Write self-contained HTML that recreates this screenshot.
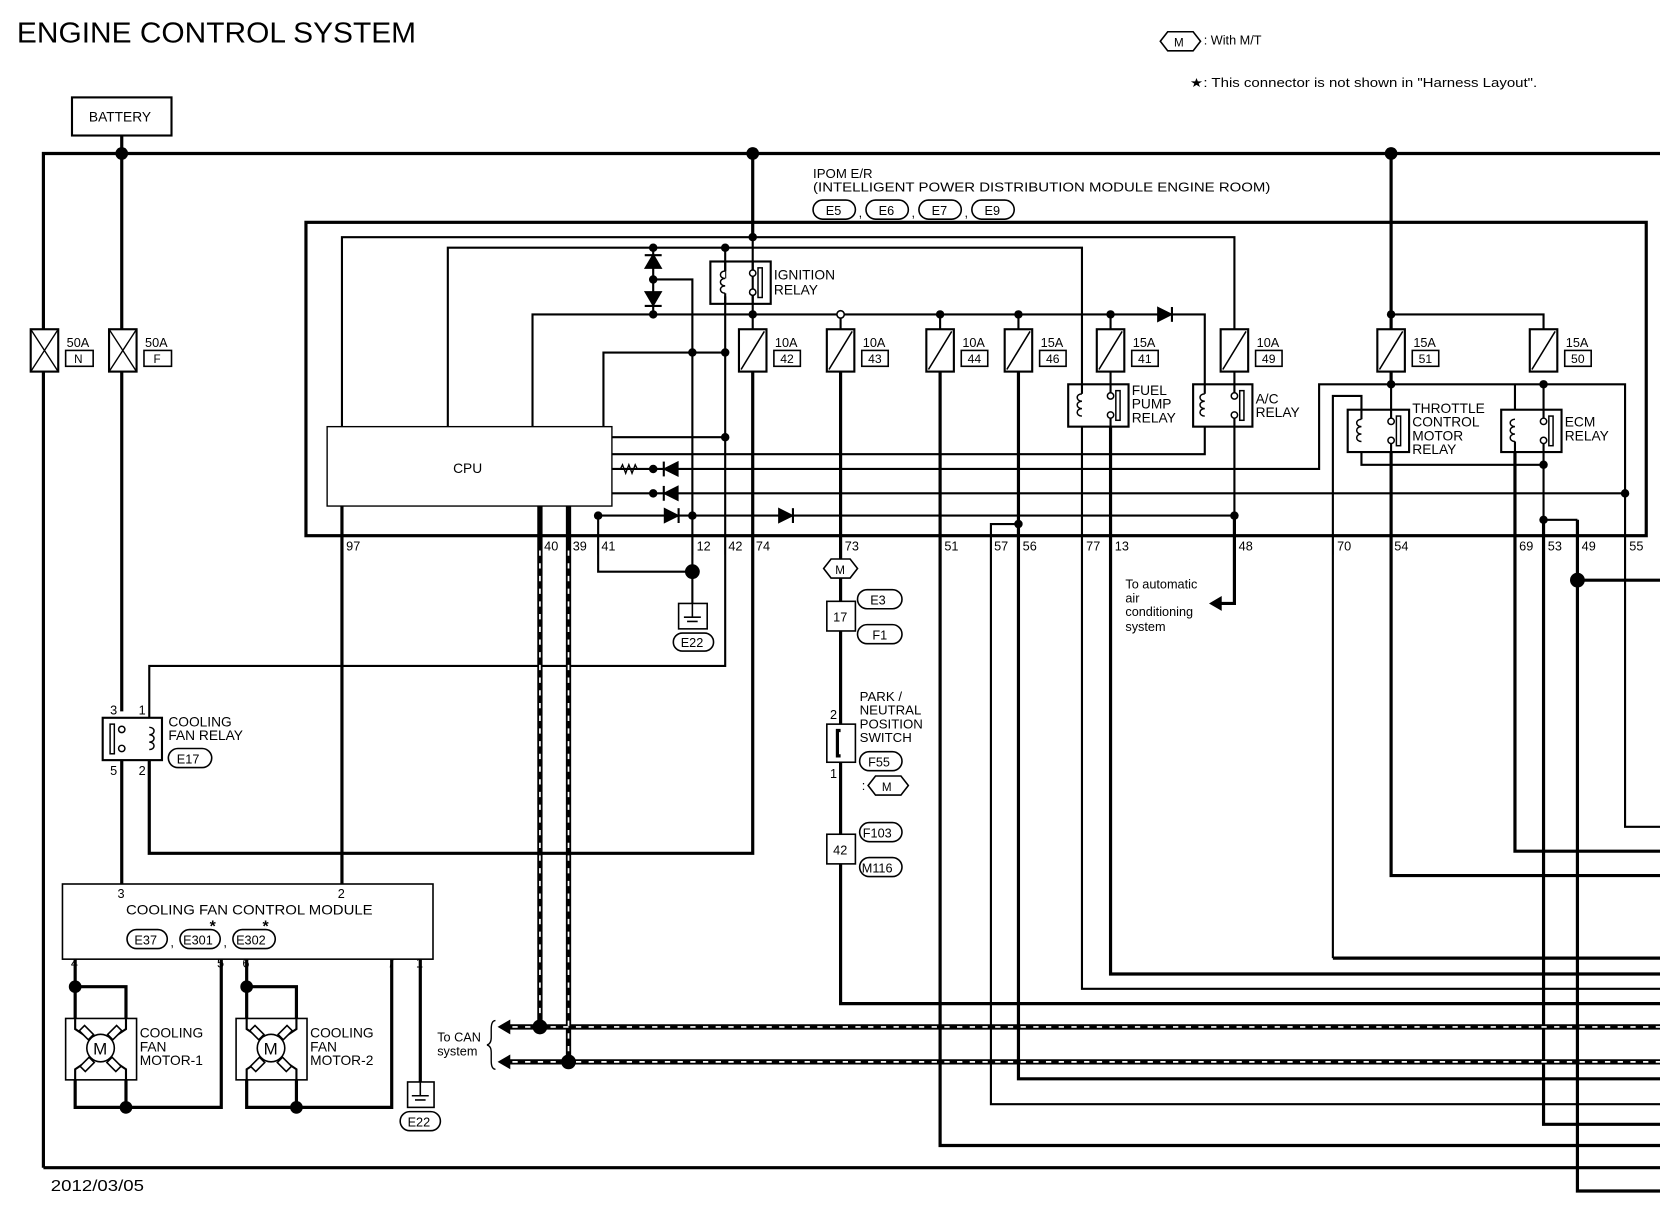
<!DOCTYPE html>
<html><head><meta charset="utf-8"><style>
html,body{margin:0;padding:0;background:#fff;}
svg{display:block;}
text{font-family:"Liberation Sans",Arial,sans-serif;fill:#000;}
</style></head><body>
<svg width="1660" height="1216" viewBox="0 0 1568 1148.6" preserveAspectRatio="none" xmlns="http://www.w3.org/2000/svg">
<g fill="none" stroke="#000" stroke-width="3">
<path d="M41 1103 V145 H1568"/>
<path d="M41 1103 H1568"/>
<path d="M115 128 V672"/>
<path d="M711 145 V224"/>
<path d="M1314 145 V363"/>
<rect x="289" y="210" width="1266" height="296"/>
</g>
<g fill="none" stroke="#000" stroke-width="2">
<path d="M323 403 V224 H1166 V311"/>
<path d="M423 403 V234 H1022 V363"/>
<path d="M617 234 V297"/>
<path d="M617 264 H654 V540"/>
<path d="M503 403 V297 H1138 V363"/>
<path d="M1138 403 V429 H578"/>
<path d="M570 403 V333 H685"/>
<path d="M578 413 H685"/>
<path d="M685 234 V263"/>
<path d="M685 280 V629 H141 V678"/>
<path d="M711 224 V311"/>
<path d="M794 297 V311"/><path d="M888 297 V311"/><path d="M962 297 V311"/><path d="M1049 297 V311"/>
<path d="M1049 351 V363"/><path d="M1166 351 V363"/>
<path d="M1166 403 V487 H565 V540 H654"/>
<path d="M578 443 H1246 V363 H1535 V781 H1568"/>
<path d="M578 466 H1535"/>
<path d="M1314 351 V387"/><path d="M1458 363 V387"/>
<path d="M1458 427 V491 H1490"/>
<path d="M1286 427 V439 H1458"/>
<path d="M1259 905 V374 H1286 V387"/>
<path d="M1431 363 V387"/>
<path d="M962 495 H936 V1043 H1568"/>
<path d="M1022 403 V934 H1568"/>
<path d="M654 540 V570"/>
</g>
<g fill="none" stroke="#000" stroke-width="3">
<path d="M711 351 V806 H141 V718"/>
<path d="M323 478 V835"/>
<path d="M115 718 V835"/>
<path d="M794 351 V948 H1568"/>
<path d="M888 351 V1082 H1568"/>
<path d="M962 351 V1019 H1568"/>
<path d="M1049 403 V920 H1568"/>
<path d="M1166 487 V570 H1152"/>
<path d="M1259 905 H1568"/>
<path d="M1314 427 V827 H1568"/>
<path d="M1431 427 V804 H1568"/>
<path d="M1458 491 V1062 H1568"/>
<path d="M1490 491 V1125 H1568"/>
<path d="M1490 548 H1568"/>
<path d="M71 906 V1046 H209 V906"/>
<path d="M71 932 H119 V962"/><path d="M119 1020 V1046"/>
<path d="M233 906 V1046 H370 V906"/>
<path d="M233 932 H280 V962"/><path d="M280 1020 V1046"/>
<path d="M397 906 V1022"/>
<path d="M480 970 H1568" stroke-width="5"/>
<path d="M480 1003 H1568" stroke-width="5"/>
<path d="M510 478 V970" stroke-width="5"/><path d="M537 478 V1003" stroke-width="5"/>
</g>
<g fill="none" stroke="#fff" stroke-width="1.6" stroke-dasharray="5 7">
<path d="M484 970 H1568"/><path d="M484 1003 H1568"/>
<path d="M510 520 V966"/><path d="M537 520 V999"/>
</g>
<polygon points="470,970 482,963 482,977" fill="#000"/>
<polygon points="470,1003 482,996 482,1010" fill="#000"/>
<polygon points="1142,570 1154,563 1154,577" fill="#000"/>
<path d="M468 964 Q464 964 464 972 V980 Q464 986 460 987 Q464 988 464 994 V1002 Q464 1010 468 1010" fill="none" stroke="#000" stroke-width="1.3"/>

<g fill="#000">
<circle cx="115" cy="145" r="6"/><circle cx="711" cy="145" r="6"/><circle cx="1314" cy="145" r="6"/>
<circle cx="711" cy="224" r="4"/><circle cx="617" cy="234" r="4"/><circle cx="685" cy="234" r="4"/>
<circle cx="617" cy="264" r="4"/><circle cx="617" cy="297" r="4"/><circle cx="711" cy="297" r="4"/>
<circle cx="888" cy="297" r="4"/><circle cx="962" cy="297" r="4"/><circle cx="1049" cy="297" r="4"/>
<circle cx="654" cy="333" r="4"/><circle cx="685" cy="333" r="4"/><circle cx="685" cy="413" r="4"/>
<circle cx="617" cy="443" r="4"/><circle cx="617" cy="466" r="4"/><circle cx="565" cy="487" r="4"/>
<circle cx="654" cy="487" r="4"/><circle cx="1166" cy="487" r="4"/><circle cx="962" cy="495" r="4"/>
<circle cx="654" cy="540" r="7"/>
<circle cx="1314" cy="297" r="4"/><circle cx="1314" cy="363" r="4"/><circle cx="1458" cy="363" r="4"/>
<circle cx="1458" cy="439" r="4"/><circle cx="1535" cy="466" r="4"/><circle cx="1458" cy="491" r="4"/>
<circle cx="1490" cy="548" r="7"/>
<circle cx="510" cy="970" r="7"/><circle cx="537" cy="1003" r="7"/>
<circle cx="71" cy="932" r="6"/><circle cx="119" cy="1046" r="6"/>
<circle cx="233" cy="932" r="6"/><circle cx="280" cy="1046" r="6"/>
</g>
<path d="M1314 297 H1458 V311" fill="none" stroke="#000" stroke-width="2"/>
<circle cx="794" cy="297" r="3.5" fill="#fff" stroke="#000" stroke-width="1.5"/>
<g fill="#000" stroke="#000" stroke-width="2">
<polygon points="610,253 624,253 617,241"/><line x1="609" y1="241" x2="625" y2="241"/>
<polygon points="610,276 624,276 617,288"/><line x1="609" y1="289" x2="625" y2="289"/>
<polygon points="1094,291 1094,303 1106,297"/><line x1="1107" y1="290" x2="1107" y2="304"/>
<polygon points="640,437 640,449 628,443"/><line x1="627" y1="436" x2="627" y2="450"/>
<polygon points="640,460 640,472 628,466"/><line x1="627" y1="459" x2="627" y2="473"/>
<polygon points="628,481 628,493 640,487"/><line x1="641" y1="480" x2="641" y2="494"/>
<polygon points="736,481 736,493 748,487"/><line x1="749" y1="480" x2="749" y2="494"/>
</g>
<path d="M578 443 H586 l2 -4 l3 8 l3 -8 l3 8 l3 -8 l2 4 H617" fill="none" stroke="#000" stroke-width="1.3"/>

<rect x="309" y="403" width="269" height="75" fill="#fff" stroke="#000" stroke-width="1.3"/>
<text x="428" y="447" font-size="13">CPU</text>

<g stroke="#000" stroke-width="2" fill="#fff">
<rect x="29" y="311" width="26" height="40"/><rect x="103" y="311" width="26" height="40"/>
</g>
<g stroke="#000" stroke-width="1.3">
<line x1="29" y1="311" x2="55" y2="351"/><line x1="55" y1="311" x2="29" y2="351"/>
<line x1="103" y1="311" x2="129" y2="351"/><line x1="129" y1="311" x2="103" y2="351"/>
</g>
<g font-size="12"><text x="63" y="328">50A</text><text x="137" y="328">50A</text></g>
<rect x="62" y="331" width="26" height="15" fill="none" stroke="#000" stroke-width="1.5"/>
<rect x="136" y="331" width="26" height="15" fill="none" stroke="#000" stroke-width="1.5"/>
<text x="70" y="343" font-size="11">N</text><text x="145" y="343" font-size="11">F</text>

<g stroke="#000" stroke-width="2" fill="#fff">
<rect x="698" y="311" width="26" height="40"/><rect x="781" y="311" width="26" height="40"/>
<rect x="875" y="311" width="26" height="40"/><rect x="949" y="311" width="26" height="40"/>
<rect x="1036" y="311" width="26" height="40"/><rect x="1153" y="311" width="26" height="40"/>
<rect x="1301" y="311" width="26" height="40"/><rect x="1445" y="311" width="26" height="40"/>
</g>
<g stroke="#000" stroke-width="1.5">
<line x1="700" y1="349" x2="722" y2="313"/><line x1="783" y1="349" x2="805" y2="313"/>
<line x1="877" y1="349" x2="899" y2="313"/><line x1="951" y1="349" x2="973" y2="313"/>
<line x1="1038" y1="349" x2="1060" y2="313"/><line x1="1155" y1="349" x2="1177" y2="313"/>
<line x1="1303" y1="349" x2="1325" y2="313"/><line x1="1447" y1="349" x2="1469" y2="313"/>
</g>
<g fill="none" stroke="#000" stroke-width="1.5">
<rect x="731" y="331" width="25" height="15"/><rect x="814" y="331" width="25" height="15"/>
<rect x="908" y="331" width="25" height="15"/><rect x="982" y="331" width="25" height="15"/>
<rect x="1069" y="331" width="25" height="15"/><rect x="1186" y="331" width="25" height="15"/>
<rect x="1334" y="331" width="25" height="15"/><rect x="1478" y="331" width="25" height="15"/>
</g>
<g font-size="12">
<text x="732" y="328">10A</text><text x="815" y="328">10A</text><text x="909" y="328">10A</text><text x="983" y="328">15A</text>
<text x="1070" y="328">15A</text><text x="1187" y="328">10A</text><text x="1335" y="328">15A</text><text x="1479" y="328">15A</text>
</g>
<g font-size="11.5">
<text x="737" y="343">42</text><text x="820" y="343">43</text><text x="914" y="343">44</text><text x="988" y="343">46</text>
<text x="1075" y="343">41</text><text x="1192" y="343">49</text><text x="1340" y="343">51</text><text x="1484" y="343">50</text>
</g>

<g fill="none" stroke="#000" stroke-width="2">
<rect x="671" y="247" width="57" height="40"/>
<rect x="1009" y="363" width="57" height="40"/>
<rect x="1127" y="363" width="56" height="40"/>
<rect x="1273" y="387" width="58" height="40"/>
<rect x="1418" y="387" width="57" height="40"/>
<rect x="97" y="678" width="56" height="40"/>
</g>
<g fill="#fff" stroke="#000" stroke-width="1.4">
<path d="M685 256 c-6 0 -6 7 0 7 c-6 0 -6 7 0 7 c-6 0 -6 7 0 7"/>
<path d="M1022 372 c-6 0 -6 7 0 7 c-6 0 -6 7 0 7 c-6 0 -6 7 0 7"/>
<path d="M1138 372 c-6 0 -6 7 0 7 c-6 0 -6 7 0 7 c-6 0 -6 7 0 7"/>
<path d="M1286 396 c-6 0 -6 7 0 7 c-6 0 -6 7 0 7 c-6 0 -6 7 0 7"/>
<path d="M1431 396 c-6 0 -6 7 0 7 c-6 0 -6 7 0 7 c-6 0 -6 7 0 7"/>
<path d="M141 687 c6 0 6 7 0 7 c6 0 6 7 0 7 c6 0 6 7 0 7"/>
<circle cx="711" cy="258" r="3"/><circle cx="711" cy="276" r="3"/><rect x="716" y="253" width="4" height="28"/>
<circle cx="1049" cy="374" r="3"/><circle cx="1049" cy="392" r="3"/><rect x="1054" y="369" width="4" height="28"/>
<circle cx="1166" cy="374" r="3"/><circle cx="1166" cy="392" r="3"/><rect x="1171" y="369" width="4" height="28"/>
<circle cx="1314" cy="398" r="3"/><circle cx="1314" cy="416" r="3"/><rect x="1319" y="393" width="4" height="28"/>
<circle cx="1458" cy="398" r="3"/><circle cx="1458" cy="416" r="3"/><rect x="1463" y="393" width="4" height="28"/>
<circle cx="115" cy="689" r="3"/><circle cx="115" cy="707" r="3"/><rect x="104" y="684" width="4" height="28"/>
</g>
<g stroke="#000" stroke-width="2">
<line x1="685" y1="247" x2="685" y2="256"/><line x1="685" y1="277" x2="685" y2="287"/>
<line x1="711" y1="247" x2="711" y2="255"/><line x1="711" y1="279" x2="711" y2="287"/>
<line x1="1049" y1="363" x2="1049" y2="371"/><line x1="1049" y1="395" x2="1049" y2="403"/>
<line x1="1166" y1="363" x2="1166" y2="371"/><line x1="1166" y1="395" x2="1166" y2="403"/>
<line x1="1314" y1="387" x2="1314" y2="395"/><line x1="1314" y1="419" x2="1314" y2="427"/>
<line x1="1458" y1="387" x2="1458" y2="395"/><line x1="1458" y1="419" x2="1458" y2="427"/>
<line x1="1286" y1="387" x2="1286" y2="396"/><line x1="1431" y1="417" x2="1431" y2="427"/>
<line x1="1022" y1="363" x2="1022" y2="372"/><line x1="1138" y1="363" x2="1138" y2="372"/>
</g>
<g font-size="13">
<text x="731" y="264">IGNITION</text><text x="731" y="278">RELAY</text>
<text x="1069" y="373">FUEL</text><text x="1069" y="386">PUMP</text><text x="1069" y="399">RELAY</text>
<text x="1186" y="381">A/C</text><text x="1186" y="394">RELAY</text>
<text x="1334" y="390">THROTTLE</text><text x="1334" y="403">CONTROL</text><text x="1334" y="416">MOTOR</text><text x="1334" y="429">RELAY</text>
<text x="1478" y="403">ECM</text><text x="1478" y="416">RELAY</text>
</g>

<g font-size="12.5">
<text x="768" y="168">IPOM E/R</text>
<text x="768" y="181" textLength="432" lengthAdjust="spacingAndGlyphs">(INTELLIGENT POWER DISTRIBUTION MODULE ENGINE ROOM)</text>
</g>
<g fill="none" stroke="#000" stroke-width="1.5">
<rect x="768" y="189" width="40" height="18" rx="9"/><rect x="818" y="189" width="40" height="18" rx="9"/>
<rect x="868" y="189" width="40" height="18" rx="9"/><rect x="918" y="189" width="40" height="18" rx="9"/>
</g>
<g font-size="12"><text x="780" y="203">E5</text><text x="830" y="203">E6</text><text x="880" y="203">E7</text><text x="930" y="203">E9</text>
<text x="811" y="205">,</text><text x="861" y="205">,</text><text x="911" y="205">,</text></g>

<g stroke="#000" stroke-width="1.5">
<line x1="323" y1="506" x2="323" y2="524"/><line x1="565" y1="506" x2="565" y2="524"/>
<line x1="654" y1="506" x2="654" y2="524"/><line x1="685" y1="506" x2="685" y2="524"/>
<line x1="711" y1="506" x2="711" y2="524"/><line x1="936" y1="495" x2="936" y2="524"/>
<line x1="1022" y1="506" x2="1022" y2="524"/><line x1="1049" y1="506" x2="1049" y2="524"/>
<line x1="1259" y1="506" x2="1259" y2="524"/><line x1="1431" y1="506" x2="1431" y2="524"/>
<line x1="1535" y1="506" x2="1535" y2="524"/>
</g>
<g font-size="12">
<text x="327" y="520">97</text><text x="514" y="520">40</text><text x="541" y="520">39</text><text x="568" y="520">41</text>
<text x="658" y="520">12</text><text x="688" y="520">42</text><text x="714" y="520">74</text><text x="798" y="520">73</text>
<text x="892" y="520">51</text><text x="939" y="520">57</text><text x="966" y="520">56</text><text x="1026" y="520">77</text>
<text x="1053" y="520">13</text><text x="1170" y="520">48</text><text x="1263" y="520">70</text><text x="1317" y="520">54</text>
<text x="1435" y="520">69</text><text x="1462" y="520">53</text><text x="1494" y="520">49</text><text x="1539" y="520">55</text>
</g>

<rect x="641" y="570" width="27" height="24" fill="#fff" stroke="#000" stroke-width="1.5"/>
<g stroke="#000" stroke-width="1.5"><line x1="654" y1="570" x2="654" y2="583"/><line x1="646" y1="583" x2="662" y2="583"/><line x1="649" y1="587" x2="659" y2="587"/></g>
<rect x="636" y="598" width="38" height="17" rx="8.5" fill="none" stroke="#000" stroke-width="1.5"/>
<text x="643" y="611" font-size="12">E22</text>

<text x="1063" y="556" font-size="12">To automatic</text>
<text x="1063" y="569" font-size="12">air</text>
<text x="1063" y="582" font-size="12">conditioning</text>
<text x="1063" y="596" font-size="12">system</text>

<polygon points="778,537 785,528 803,528 810,537 803,546 785,546" fill="#fff" stroke="#000" stroke-width="1.5"/>
<text x="789" y="542" font-size="11">M</text>
<rect x="781" y="568" width="27" height="28" fill="#fff" stroke="#000" stroke-width="1.5"/>
<text x="787" y="587" font-size="12">17</text>
<rect x="810" y="557" width="42" height="18" rx="9" fill="none" stroke="#000" stroke-width="1.5"/>
<text x="822" y="571" font-size="12">E3</text>
<rect x="810" y="590" width="42" height="18" rx="9" fill="none" stroke="#000" stroke-width="1.5"/>
<text x="824" y="604" font-size="12">F1</text>
<rect x="781" y="684" width="27" height="36" fill="#fff" stroke="#000" stroke-width="1.5"/>
<path d="M794 690 h-3 v24 h3" fill="none" stroke="#000" stroke-width="3"/>
<text x="784" y="679" font-size="12">2</text><text x="784" y="735" font-size="12">1</text>
<g font-size="12.5"><text x="812" y="662">PARK /</text><text x="812" y="675">NEUTRAL</text><text x="812" y="688">POSITION</text><text x="812" y="701">SWITCH</text></g>
<rect x="812" y="710" width="40" height="18" rx="9" fill="none" stroke="#000" stroke-width="1.5"/>
<text x="820" y="724" font-size="12">F55</text>
<text x="814" y="746" font-size="12">:</text>
<polygon points="820,742 827,733 851,733 858,742 851,751 827,751" fill="#fff" stroke="#000" stroke-width="1.5"/>
<text x="833" y="747" font-size="11">M</text>
<rect x="812" y="777" width="40" height="18" rx="9" fill="none" stroke="#000" stroke-width="1.5"/>
<text x="815" y="791" font-size="12">F103</text>
<rect x="781" y="788" width="27" height="28" fill="#fff" stroke="#000" stroke-width="1.5"/>
<text x="787" y="807" font-size="12">42</text>
<rect x="812" y="810" width="40" height="18" rx="9" fill="none" stroke="#000" stroke-width="1.5"/>
<text x="814" y="824" font-size="12">M116</text>

<g font-size="12"><text x="104" y="675">3</text><text x="131" y="675">1</text><text x="104" y="732">5</text><text x="131" y="732">2</text></g>
<g font-size="13"><text x="159" y="686">COOLING</text><text x="159" y="699">FAN RELAY</text></g>
<rect x="159" y="707" width="41" height="18" rx="9" fill="none" stroke="#000" stroke-width="1.5"/>
<text x="167" y="721" font-size="12">E17</text>

<rect x="59" y="835" width="350" height="71" fill="#fff" stroke="#000" stroke-width="1.5"/>
<g font-size="12"><text x="111" y="848">3</text><text x="319" y="848">2</text>
<text x="67" y="914">4</text><text x="205" y="914">5</text><text x="229" y="914">6</text><text x="366" y="914">7</text><text x="393" y="914">1</text></g>
<text x="119" y="864" font-size="13" textLength="233" lengthAdjust="spacingAndGlyphs">COOLING FAN CONTROL MODULE</text>
<g fill="none" stroke="#000" stroke-width="1.5">
<rect x="120" y="878" width="38" height="18" rx="9"/><rect x="170" y="878" width="38" height="18" rx="9"/><rect x="220" y="878" width="40" height="18" rx="9"/>
</g>
<g font-size="12"><text x="127" y="892">E37</text><text x="173" y="892">E301</text><text x="223" y="892">E302</text>
<text x="161" y="894">,</text><text x="211" y="894">,</text></g>
<g font-size="15" font-weight="bold"><text x="198" y="880">*</text><text x="248" y="880">*</text></g>

<g fill="#fff" stroke="#000" stroke-width="1.5">
<rect x="62" y="962" width="67" height="58"/><rect x="223" y="962" width="67" height="58"/>
</g>
<g fill="none" stroke="#000" stroke-width="2">
<path d="M71 962 v10 l12 8 M119 962 v10 l-12 8 M71 1020 v-10 l12 -8 M119 1020 v-10 l-12 -8"/>
<path d="M233 962 v10 l12 8 M280 962 v10 l-12 8 M233 1020 v-10 l12 -8 M280 1020 v-10 l-12 -8"/>
</g>
<g fill="#fff" stroke="#000" stroke-width="1.5">
<rect x="76" y="972" width="12" height="7" transform="rotate(45 82 975)"/><rect x="102" y="972" width="12" height="7" transform="rotate(-45 108 975)"/>
<rect x="76" y="1002" width="12" height="7" transform="rotate(-45 82 1005)"/><rect x="102" y="1002" width="12" height="7" transform="rotate(45 108 1005)"/>
<rect x="237" y="972" width="12" height="7" transform="rotate(45 243 975)"/><rect x="263" y="972" width="12" height="7" transform="rotate(-45 269 975)"/>
<rect x="237" y="1002" width="12" height="7" transform="rotate(-45 243 1005)"/><rect x="263" y="1002" width="12" height="7" transform="rotate(45 269 1005)"/>
<circle cx="95" cy="990" r="13"/><circle cx="256" cy="990" r="13"/>
</g>
<g font-size="16"><text x="88" y="996">M</text><text x="249" y="996">M</text></g>
<g font-size="13"><text x="132" y="980">COOLING</text><text x="132" y="993">FAN</text><text x="132" y="1006">MOTOR-1</text>
<text x="293" y="980">COOLING</text><text x="293" y="993">FAN</text><text x="293" y="1006">MOTOR-2</text></g>

<rect x="385" y="1022" width="25" height="24" fill="#fff" stroke="#000" stroke-width="1.5"/>
<g stroke="#000" stroke-width="1.5"><line x1="397" y1="1022" x2="397" y2="1035"/><line x1="389" y1="1035" x2="405" y2="1035"/><line x1="392" y1="1039" x2="402" y2="1039"/></g>
<rect x="378" y="1050" width="38" height="18" rx="9" fill="none" stroke="#000" stroke-width="1.5"/>
<text x="385" y="1064" font-size="12">E22</text>
<text x="413" y="984" font-size="12">To CAN</text>
<text x="413" y="997" font-size="12">system</text>

<rect x="68" y="92" width="94" height="36" fill="#fff" stroke="#000" stroke-width="2"/>
<text x="84" y="115" font-size="13">BATTERY</text>
<text x="16" y="40" font-size="27" textLength="377" lengthAdjust="spacingAndGlyphs">ENGINE CONTROL SYSTEM</text>
<polygon points="1096,39 1103,30 1127,30 1134,39 1127,48 1103,48" fill="#fff" stroke="#000" stroke-width="1.5"/>
<text x="1109" y="44" font-size="11">M</text>
<text x="1137" y="42" font-size="12">: With M/T</text>
<text x="1124" y="82" font-size="12" textLength="328" lengthAdjust="spacingAndGlyphs">★: This connector is not shown in "Harness Layout".</text>
<text x="48" y="1125" font-size="15" textLength="88" lengthAdjust="spacingAndGlyphs">2012/03/05</text>
</svg>
</body></html>
